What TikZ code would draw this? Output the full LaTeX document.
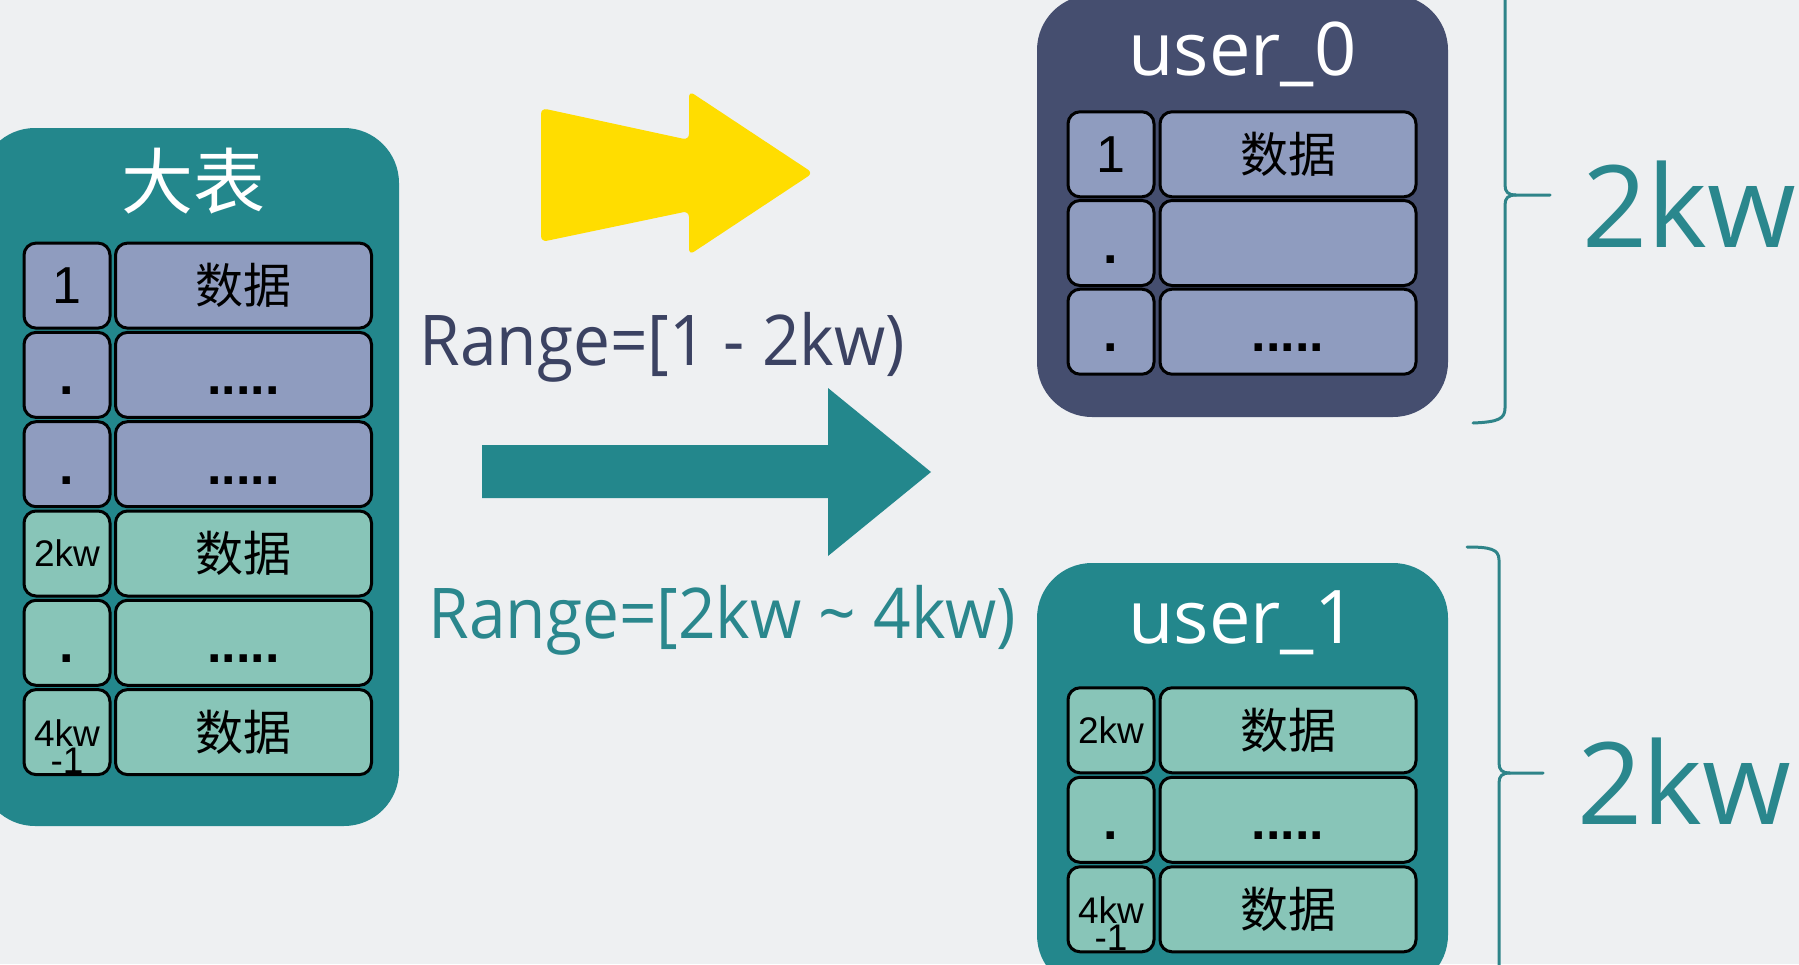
\documentclass[tikz,border=0pt]{standalone}
\usepackage{fontspec}
\setmainfont{Liberation Sans}
\newfontfamily\osans{Open Sans}
\newfontfamily\osansN[FakeStretch=0.94]{Open Sans}
\newfontfamily\cjk{Noto Sans CJK SC}
\definecolor{bgcol}{HTML}{EEF0F2}
\definecolor{tealbox}{HTML}{23878C}
\definecolor{navybox}{HTML}{454E6F}
\definecolor{cellP}{HTML}{8F9CBF}
\definecolor{cellG}{HTML}{88C5B8}
\definecolor{rangeNavy}{HTML}{3B4262}
\definecolor{tealtext}{HTML}{2A878D}
\definecolor{bracketc}{HTML}{2E8489}
\definecolor{yellowc}{HTML}{FFDD00}
\tikzset{
  cell/.style={draw=black, line width=1.5pt, rounded corners=6pt, minimum height=42.5pt, inner sep=0pt, font=\fontsize{26}{26}\selectfont},
  cp/.style={cell, fill=cellP},
  cg/.style={cell, fill=cellG},
  lcol/.style={minimum width=43pt},
  rcol/.style={minimum width=128pt},
  low/.style={text height=20pt, text depth=0pt},
  dots/.style={low, font=\fontsize{26}{26}\selectfont\bfseries},
  cjkt/.style={font=\cjk\fontsize{24}{24}\selectfont},
  smalltxt/.style={font=\fontsize{18.5}{18.5}\selectfont},
  twoline/.style={inner sep=0pt, align=center, font=\fontsize{18.5}{13.5}\selectfont},
  title/.style={anchor=base, inner sep=0pt, text=white, font=\osans\fontsize{37}{37}\selectfont},
  rangetxt/.style={anchor=base west, inner sep=0pt, font=\osansN\fontsize{35}{35}\selectfont},
  bigkw/.style={anchor=base west, inner sep=0pt, text=tealtext, font=\osans\fontsize{57}{57}\selectfont},
  brace/.style={draw=bracketc, line width=1.5pt, line cap=round, line join=round},
}
\begin{document}
\begin{tikzpicture}[x=0.5pt,y=-0.5pt]
\useasboundingbox (0,0) rectangle (1799,964);
\clip (0,0) rectangle (1799,964);
\fill[bgcol] (0,0) rectangle (1799,964);

% ---- big table ----
\fill[tealbox, rounded corners=27.5pt] (-20,128) rectangle (399,826);
\node[inner sep=0pt, text=white, font=\cjk\fontsize{36}{36}\selectfont] (bigtitle) at (193,181) {大表};
\node[cp, lcol] (b1l) at (67,285.6) {1};
\node[cp, rcol, cjkt] (b1r) at (243.5,285.6) {数据};
\node[cp, lcol, dots] (b2l) at (67,374.9) {.};
\node[cp, rcol, dots] (b2r) at (243.5,374.9) {.....};
\node[cp, lcol, dots] (b3l) at (67,464.2) {.};
\node[cp, rcol, dots] (b3r) at (243.5,464.2) {.....};
\node[cg, lcol, smalltxt] (b4l) at (67,553.5) {2kw};
\node[cg, rcol, cjkt] (b4r) at (243.5,553.5) {数据};
\node[cg, lcol, dots] (b5l) at (67,642.8) {.};
\node[cg, rcol, dots] (b5r) at (243.5,642.8) {.....};
\node[cg, lcol] (b6l) at (67,732.1) {};
\node[twoline] (b6lt) at ([yshift=-7.25pt]b6l.center) {4kw\\-1};
\node[cg, rcol, cjkt] (b6r) at (243.5,732.1) {数据};

% ---- arrows ----
\fill[yellowc, rounded corners=3pt] (541,108) -- (689,140) -- (689,91) -- (813,173) -- (689,255) -- (689,211) -- (541,242) -- cycle;
\fill[tealbox] (482,445) -- (828,445) -- (828,388) -- (931,472) -- (828,556) -- (828,498) -- (482,498) -- cycle;
\node[rangetxt, text=rangeNavy] (range1) at (419,365) {Range=[1 - 2kw)};
\node[rangetxt, text=tealtext] (range2) at (428,638) {Range=[2kw {\char"007E} 4kw)};

% ---- user_0 ----
\fill[navybox, rounded corners=27.5pt] (1037,-5) rectangle (1448,417);
\node[title] (u0title) at (1242.5,75) {user\_0};
\node[cp, lcol] (u01l) at (1111,154.3) {1};
\node[cp, rcol, cjkt] (u01r) at (1288,154.3) {数据};
\node[cp, lcol, dots] (u02l) at (1111,243) {.};
\node[cp, rcol] (u02r) at (1288,243) {};
\node[cp, lcol, dots] (u03l) at (1111,331.7) {.};
\node[cp, rcol, dots] (u03r) at (1288,331.7) {.....};

% ---- user_1 ----
\fill[tealbox, rounded corners=27.5pt] (1037,563) rectangle (1448,990);
\node[title] (u1title) at (1242.5,643) {user\_1};
\node[cg, lcol, smalltxt] (u11l) at (1111,730.3) {2kw};
\node[cg, rcol, cjkt] (u11r) at (1288,730.3) {数据};
\node[cg, lcol, dots] (u12l) at (1111,819.8) {.};
\node[cg, rcol, dots] (u12r) at (1288,819.8) {.....};
\node[cg, lcol] (u13l) at (1111,909.3) {};
\node[twoline] (u13lt) at ([yshift=-7.25pt]u13l.center) {4kw\\-1};
\node[cg, rcol, cjkt] (u13r) at (1288,909.3) {数据};

% ---- braces ----
\draw[brace] (1505,-10) -- (1505,185) .. controls (1505,192) and (1508,195) .. (1516,195) -- (1550,195);
\draw[brace] (1516,195) .. controls (1508,195) and (1505,198) .. (1505,205) -- (1505,408) .. controls (1505,419) and (1498,422) .. (1473,423);
\coordinate (brace1tip) at (1550,195);
\node[bigkw] (kw0) at (1582,247) {2kw};

\draw[brace] (1467,547) .. controls (1490,547) and (1499,549) .. (1499,560) -- (1499,763) .. controls (1499,770) and (1502,773) .. (1510,773) -- (1543,773);
\draw[brace] (1510,773) .. controls (1502,773) and (1499,776) .. (1499,783) -- (1499,975);
\coordinate (brace2tip) at (1543,773);
\node[bigkw] (kw1) at (1577,824) {2kw};
\end{tikzpicture}
\end{document}
